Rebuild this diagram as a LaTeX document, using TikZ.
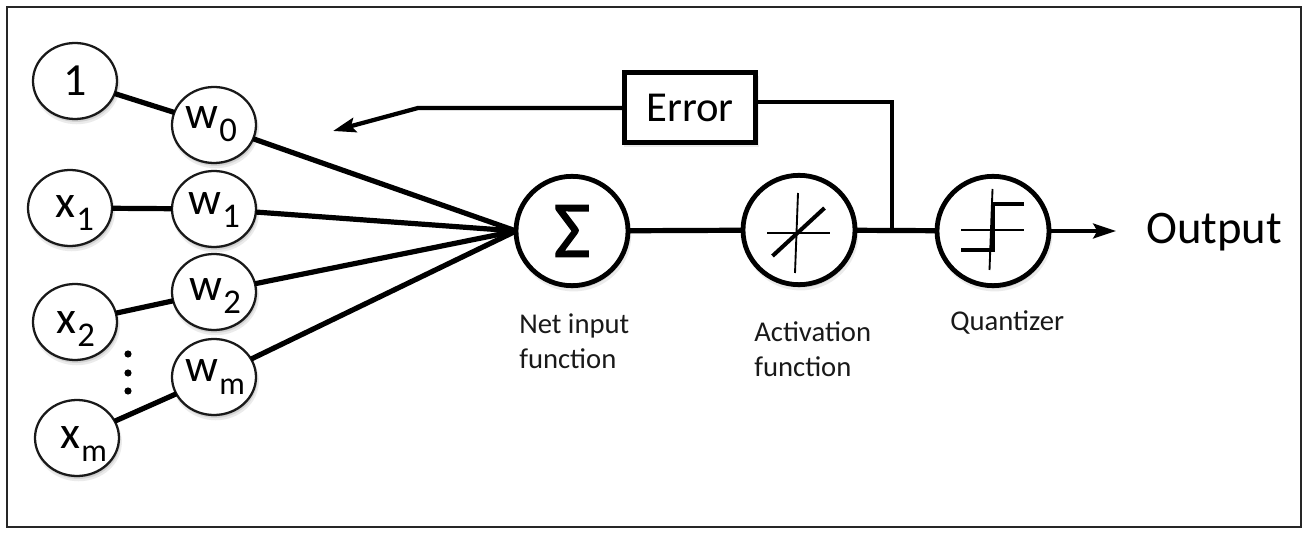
\documentclass[tikz,border=0pt]{standalone}
\usepackage{fontspec}
\setmainfont{Carlito}
\newfontfamily\sigmafont[FakeBold=1.6]{Carlito}
\usetikzlibrary{shapes.geometric,arrows.meta,shadows}
\newcommand{\pxfont}[1]{\fontsize{#1}{#1}\selectfont}
% dx, dy: offset of the baseline start from the node centre; main letter; subscript
\newcommand{\wsb}[4]{\makebox[0pt][l]{\kern#1pt\raisebox{#2pt}[0pt][0pt]{#3\kern0.03em\raisebox{-9.75pt}[0pt][0pt]{\pxfont{26pt}#4}}}}
\tikzset{
  softshadow/.style={
    general shadow={shadow xshift=1.2pt,shadow yshift=-3pt,shadow scale=1.03,fill=black,fill opacity=.08},
    general shadow={shadow xshift=1pt,shadow yshift=-2.2pt,fill=black,fill opacity=.1},
    general shadow={shadow xshift=.6pt,shadow yshift=-1.3pt,shadow scale=.99,fill=black,fill opacity=.12}},
  weightnode/.style={ellipse,draw=black!90,line width=1.7pt,fill=white,minimum width=63pt,minimum height=57pt,inner sep=0,outer sep=0,softshadow,font=\pxfont{34.5pt},text=black},
  opnode/.style={ellipse,draw=black,line width=3.6pt,fill=white,minimum width=84pt,minimum height=82pt,inner sep=0,outer sep=0,softshadow},
  wire/.style={line width=3.9pt,black},
  fbwire/.style={line width=3.2pt,black},
  thinline/.style={line width=1.4pt,black},
  thickline/.style={line width=3pt,black},
  caption/.style={font=\pxfont{21.5pt},text=black!90,align=left,inner sep=0,anchor=west},
  tip/.style={-{Stealth[length=17pt,width=11pt,inset=3pt]}}
}
\begin{document}
\begin{tikzpicture}[x=0.75pt,y=-0.75pt]
\useasboundingbox (0,0) rectangle (1308,534);
\draw[line width=1.2pt,black!85] (7,7) rectangle (1301,527);
% inputs
\node[weightnode] (in0) at (75,81) {1};
\node[weightnode] (in1) at (70,208) {\wsb{-11.25}{-7.5}{x}{1}};
\node[weightnode] (in2) at (75,322) {\wsb{-14.25}{-8.25}{x}{2}};
\node[weightnode] (inm) at (77,438) {\wsb{-12.75}{-7.5}{x}{\pxfont{24pt}m}};
% weights
\node[weightnode] (w0) at (214,125) {\wsb{-21.75}{-3}{w}{0}};
\node[weightnode] (w1) at (214,209) {\wsb{-19.5}{-4.5}{w}{1}};
\node[weightnode] (w2) at (214,292) {\wsb{-18.75}{-6}{w}{2}};
\node[weightnode] (wm) at (214,377) {\wsb{-21.75}{-3}{w}{\pxfont{24pt}m}};
% operators
\node[opnode,font=\sigmafont\pxfont{60pt}] (sum) at (572,231) {Σ};
\node[opnode] (act) at (799,230) {};
\node[opnode] (qnt) at (993,231) {};
\node[rectangle,draw=black,line width=3.6pt,fill=white,minimum width=98pt,minimum height=52pt,inner sep=0,outer sep=0,softshadow,font=\pxfont{32pt},text=black] (err) at (690,107.5) {Error};
% connectors
\draw[wire] (in0) -- (w0);
\draw[wire] (in1) -- (w1);
\draw[wire] (in2) -- (w2);
\draw[wire] (inm) -- (wm);
\draw[wire] (w0) -- (sum.west);
\draw[wire] (w1) -- (sum.west);
\draw[wire] (w2) -- (sum.west);
\draw[wire] (wm) -- (sum.west);
\draw[wire] (sum) -- (act);
\draw[wire] (act) -- (qnt);
\coordinate (outend) at (1116,231);
\draw[fbwire,tip] (qnt) -- (outend);
\coordinate (fbtop) at (892,102);
\coordinate (fbbot) at (892,231);
\draw[fbwire] (err.east |- fbtop) -- (fbtop) -- (fbbot);
\coordinate (fbbend) at (418,108);
\coordinate (fbtip) at (333,131);
\draw[fbwire,tip] (err.west |- fbbend) -- (fbbend) -- (fbtip);
% dots
\fill (128,354) circle[radius=3.6];
\fill (128,373) circle[radius=3.6];
\fill (128,391) circle[radius=3.6];
% activation glyph
\draw[thinline] (798,193) -- (795,273);
\draw[thinline] (767,233) -- (830,233);
\draw[thickline] (772.5,256) -- (824.5,208);
% quantizer glyph
\draw[thinline] (992.5,189) -- (989.5,270);
\draw[thinline] (961,230) -- (1024,230);
\draw[thickline] (1024,204) -- (993,204) -- (993,250) -- (961,250);
% labels
\node[caption] (lbsum) at (519,341) {Net input\\[5pt]function};
\node[caption] (lbact) at (754,349) {Activation\\[5pt]function};
\node[caption] (lbqnt) at (950,322) {Quantizer};
\node[caption,font=\pxfont{35pt},text=black] (lbout) at (1146,232) {Output};
\end{tikzpicture}
\end{document}
